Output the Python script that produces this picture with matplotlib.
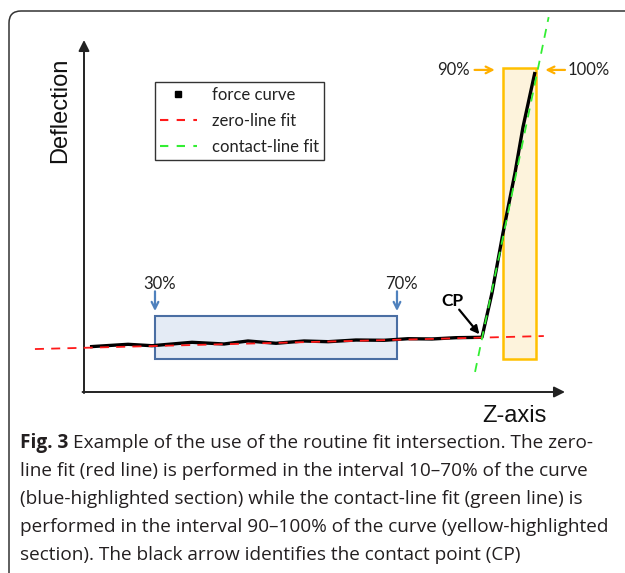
import matplotlib
matplotlib.use("Agg")
import matplotlib.pyplot as plt
from matplotlib.lines import Line2D
from matplotlib.patches import Rectangle, FancyBboxPatch

# force curve (Z position vs deflection, arbitrary units)
z_curve = [1.25, 9.15, 14.14, 22.45, 29.11, 34.10, 39.92, 45.74, 50.73, 56.55,
           62.37, 67.36, 72.35, 77.34, 82.74, 84.82, 87.11, 89.60, 91.27, 93.76]
d_curve = [12.87, 13.55, 13.15, 14.12, 13.64, 14.49, 13.84, 14.49, 14.29, 14.77,
           14.69, 15.14, 15.06, 15.43, 15.54, 28.13, 45.17, 62.22, 75.28, 90.91]

# fitted lines (end points)
zero_fit_z = [-10.2, 95.6]
zero_fit_d = [12.2, 15.9]
contact_fit_z = [81.3, 96.6]
contact_fit_d = [5.7, 106.5]

# highlighted intervals
zero_range = [14.76, 65.07]      # 30% .. 70%
contact_range = [87.11, 93.97]   # 90% .. 100%
box_bottom = 9.4
zero_box_top = 21.6
contact_box_top = 92.0

legend_labels = ["force curve", "zero-line fit", "contact-line fit"]
caption_lines = [
    "Example of the use of the routine fit intersection. The zero-",
    "line fit (red line) is performed in the interval 10\u201370% of the curve",
    "(blue-highlighted section) while the contact-line fit (green line) is",
    "performed in the interval 90\u2013100% of the curve (yellow-highlighted",
    "section). The black arrow identifies the contact point (CP)",
]

W, H = 625, 573
fig = plt.figure(figsize=(W / 100, H / 100), dpi=100)
ax = fig.add_axes([0, 0, 1, 1])
# axis origin at pixel (84, 392), 100 units = 481 px (x) / 352 px (y)
ax.set_xlim(-84 * 100 / 481, (W - 84) * 100 / 481)
ax.set_ylim(-(H - 392) * 100 / 352, 392 * 100 / 352)
ax.axis("off")

# outer frame with rounded corner
frame = FancyBboxPatch((0.09, -1.0), 7.0, 6.62,
                       boxstyle="round,pad=0,rounding_size=0.12",
                       transform=fig.dpi_scale_trans, fill=False,
                       edgecolor="#333333", lw=1.1)
fig.patches.append(frame)

# axes arrows
axis_kw = dict(arrowstyle="-|>", color="#222222", lw=1.4,
               mutation_scale=16, shrinkA=0, shrinkB=0)
ax.annotate("", xy=(0, 100), xytext=(0, -0.3), arrowprops=axis_kw)
ax.annotate("", xy=(100, 0), xytext=(-0.3, 0), arrowprops=axis_kw)
ax.text(-5.0, 80.1, "Deflection", rotation=90, ha="center", va="center",
        family="Liberation Sans", fontsize=17, color="#111111")
ax.text(89.5, -6.8, "Z-axis", ha="center", va="center",
        family="Liberation Sans", fontsize=17, color="#111111")

# highlighted boxes
ax.add_patch(Rectangle((zero_range[0], box_bottom), zero_range[1] - zero_range[0],
                       zero_box_top - box_bottom, facecolor="#e4ebf5",
                       edgecolor="#4a6ea3", lw=1.5, zorder=1))
ax.add_patch(Rectangle((contact_range[0], box_bottom), contact_range[1] - contact_range[0],
                       contact_box_top - box_bottom, facecolor="#fdf3dc",
                       edgecolor="#ffc000", lw=1.8, zorder=1))

# curve and fits
ax.plot(z_curve, d_curve, color="black", lw=2.4, zorder=3, solid_capstyle="butt")
ax.plot(zero_fit_z, zero_fit_d, color="#ff1a1a", lw=1.3, ls=(0, (5, 4)), zorder=4)
ax.plot(contact_fit_z, contact_fit_d, color="#33ee33", lw=1.3, ls=(0, (5, 4)), zorder=4)

# percentage markers
lab_font = dict(family="Lato", fontsize=12, color="#222222")
blue_arrow = dict(arrowstyle="->", color="#4f81bd", lw=1.6, mutation_scale=12,
                  shrinkA=0, shrinkB=0)
for zr, lab in zip(zero_range, ["30%", "70%"]):
    ax.annotate("", xy=(zr, 23.0), xytext=(zr, 28.6), arrowprops=blue_arrow)
    ax.text(zr + 1.0, 30.6, lab, ha="center", va="center", **lab_font)

orange_arrow = dict(arrowstyle="->", color="#ffb000", lw=1.6, mutation_scale=12,
                    shrinkA=0, shrinkB=0)
ax.annotate("", xy=(85.4, 91.5), xytext=(81.2, 91.5), arrowprops=orange_arrow)
ax.annotate("", xy=(95.9, 91.5), xytext=(100.0, 91.5), arrowprops=orange_arrow)
ax.text(76.8, 91.5, "90%", ha="center", va="center", **lab_font)
ax.text(105.0, 91.5, "100%", ha="center", va="center", **lab_font)

# contact point arrow
ax.text(76.6, 25.9, "CP", ha="center", va="center", family="Lato",
        fontsize=12.5, fontweight="bold", color="black")
ax.annotate("", xy=(82.2, 16.4), xytext=(78.0, 23.4),
            arrowprops=dict(arrowstyle="-|>", color="black", lw=1.6,
                            mutation_scale=12, shrinkA=0, shrinkB=0))

# legend
handles = [
    Line2D([], [], color="black", marker="s", markersize=5, ls="none"),
    Line2D([], [], color="#ff1a1a", lw=1.5, ls=(0, (4, 4))),
    Line2D([], [], color="#33ee33", lw=1.5, ls=(0, (4, 4))),
]
leg = ax.legend(handles, legend_labels, loc="upper left",
                bbox_to_anchor=(155 / W, 1 - 82 / H), bbox_transform=fig.transFigure,
                borderaxespad=0, fancybox=False, framealpha=1, edgecolor="#333333",
                prop={"family": "Lato", "size": 12}, handlelength=2.2,
                handletextpad=0.9, labelspacing=0.6, borderpad=0.3)
leg.get_frame().set_linewidth(1.0)
for t in leg.get_texts():
    t.set_color("#222222")

# caption
cap_font = dict(family="Open Sans", fontsize=13.7, color="#231f20")
x0, y0, dy = 20 / W, 1 - 443 / H, 28 / H
bold = fig.text(x0, y0, "Fig. 3", fontweight="bold", va="center", **cap_font)
renderer = fig.canvas.get_renderer()
bw = bold.get_window_extent(renderer).width / W
fig.text(x0 + bw + 5 / W, y0, caption_lines[0], va="center", **cap_font)
for i, line in enumerate(caption_lines[1:], start=1):
    fig.text(x0, y0 - i * dy, line, va="center", **cap_font)

fig.savefig("out.png", dpi=100)
